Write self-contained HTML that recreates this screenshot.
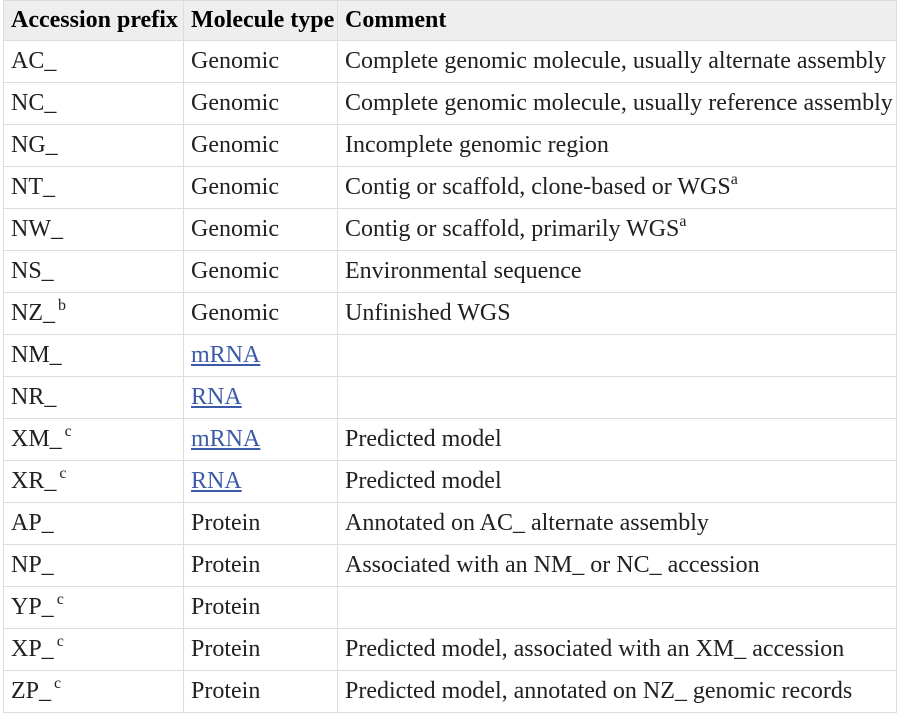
<!DOCTYPE html>
<html><head><meta charset="utf-8"><style>
body{margin:0;background:#fff;width:911px;height:728px;overflow:hidden}
table{position:absolute;left:3px;top:0;border-collapse:collapse;font-family:"Liberation Serif","Times New Roman",serif;font-size:24px;color:#202122;table-layout:fixed;width:893px}
td,th{border:1px solid #dcdcdc;padding:0 0 0 7px;text-align:left;white-space:nowrap;height:41px;vertical-align:middle;overflow:hidden}
th{background:#eeeeee;font-weight:bold;height:39px;padding-left:7px;color:#000}
a{color:#3b5aa8;text-decoration:underline}
sup{font-size:16px;line-height:0;vertical-align:10px;margin-left:3px}
</style></head><body>
<table>
<colgroup><col style="width:180px"><col style="width:154px"><col style="width:559px"></colgroup>
<tr><th>Accession prefix</th><th>Molecule type</th><th>Comment</th></tr>
<tr><td>AC_</td><td>Genomic</td><td>Complete genomic molecule, usually alternate assembly</td></tr>
<tr><td>NC_</td><td>Genomic</td><td>Complete genomic molecule, usually reference assembly</td></tr>
<tr><td>NG_</td><td>Genomic</td><td>Incomplete genomic region</td></tr>
<tr><td>NT_</td><td>Genomic</td><td>Contig or scaffold, clone-based or WGS<sup style="margin-left:0">a</sup></td></tr>
<tr><td>NW_</td><td>Genomic</td><td>Contig or scaffold, primarily WGS<sup style="margin-left:0">a</sup></td></tr>
<tr><td>NS_</td><td>Genomic</td><td>Environmental sequence</td></tr>
<tr><td>NZ_<sup>b</sup></td><td>Genomic</td><td>Unfinished WGS</td></tr>
<tr><td>NM_</td><td><a>mRNA</a></td><td></td></tr>
<tr><td>NR_</td><td><a>RNA</a></td><td></td></tr>
<tr><td>XM_<sup>c</sup></td><td><a>mRNA</a></td><td>Predicted model</td></tr>
<tr><td>XR_<sup>c</sup></td><td><a>RNA</a></td><td>Predicted model</td></tr>
<tr><td>AP_</td><td>Protein</td><td>Annotated on AC_ alternate assembly</td></tr>
<tr><td>NP_</td><td>Protein</td><td>Associated with an NM_ or NC_ accession</td></tr>
<tr><td>YP_<sup>c</sup></td><td>Protein</td><td></td></tr>
<tr><td>XP_<sup>c</sup></td><td>Protein</td><td>Predicted model, associated with an XM_ accession</td></tr>
<tr><td>ZP_<sup>c</sup></td><td>Protein</td><td>Predicted model, annotated on NZ_ genomic records</td></tr>
</table>
</body></html>
